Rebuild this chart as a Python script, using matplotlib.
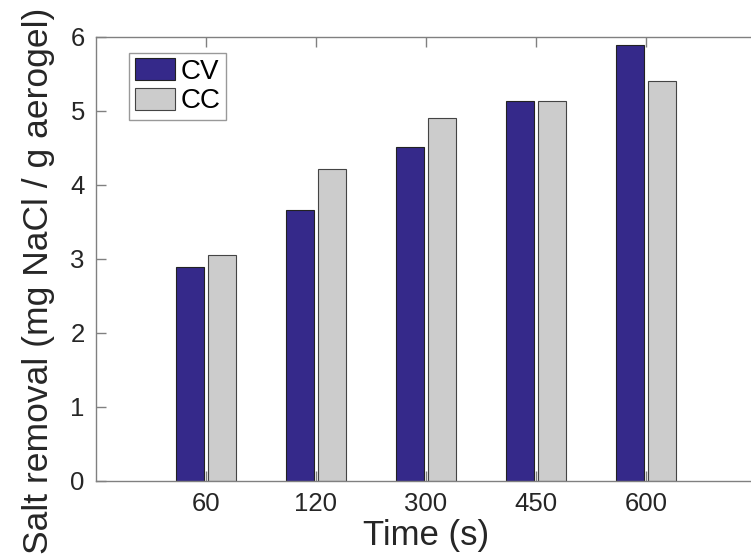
import numpy as np
import matplotlib.pyplot as plt

plt.rcParams['font.family'] = ['Liberation Sans', 'DejaVu Sans']

# data
times = ['60', '120', '300', '450', '600']
cv = [2.89, 3.66, 4.51, 5.14, 5.89]
cc = [3.05, 4.21, 4.91, 5.13, 5.40]

x = np.arange(1, len(times) + 1)
w = 0.255
off = 0.143

fig = plt.figure(figsize=(7.51, 5.6), dpi=100)
ax = fig.add_axes([0.1278, 0.1411, 0.8788, 0.7929])

ax.bar(x - off, cv, w, color='#35298a', edgecolor='#222222', linewidth=0.8, label='CV')
ax.bar(x + off, cc, w, color='#cccccc', edgecolor='#444444', linewidth=0.8, label='CC')

ax.set_xlim(0, 6)
ax.set_ylim(0, 6)
ax.set_xticks(x)
ax.set_xticklabels(times)
ax.set_yticks(range(7))

for s in ax.spines.values():
    s.set_color('#808080')
    s.set_linewidth(1.0)
ax.tick_params(direction='in', length=7, width=1, colors='#808080',
               labelcolor='#262626', labelsize=18.5, top=True, right=False, pad=8)

ax.set_xlabel('Time (s)', fontsize=25, color='#262626', va='center')
ax.xaxis.set_label_coords(0.5, -0.122)
ax.set_ylabel('Salt removal (mg NaCl / g aerogel)', fontsize=25.5, color='#262626', va='center')
ax.yaxis.set_label_coords(-0.087, 0.45)

leg = ax.legend(loc='upper left', bbox_to_anchor=(0.05, 0.965), fontsize=20,
                frameon=True, fancybox=False, edgecolor='#808080',
                handlelength=1.45, handleheight=0.86, handletextpad=0.2,
                labelspacing=0.1, borderpad=0.2, borderaxespad=0)
leg.get_frame().set_linewidth(1.0)

fig.savefig('out.png', dpi=100)
